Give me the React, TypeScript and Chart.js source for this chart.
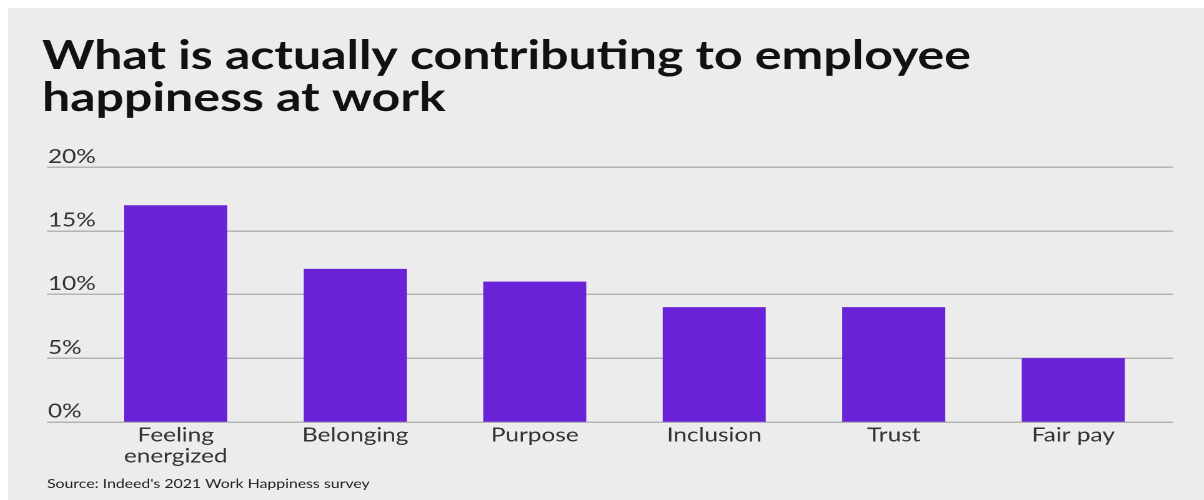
import React, { useEffect, useRef } from 'react';
import { Chart, registerables } from 'chart.js';

Chart.register(...registerables);

const categories: (string | string[])[] = [['Feeling', 'energized'], 'Belonging', 'Purpose', 'Inclusion', 'Trust', 'Fair pay'];
const values = [17, 12, 11, 9, 9, 5];
const yMin = 0;
const yMax = 20;
const yStep = 5;
const titleLines = ['What is actually contributing to employee', 'happiness at work'];
const sourceText = "Source: Indeed's 2021 Work Happiness survey";

const BG = '#ececec';
const BAR = '#6a22d8';
const GRID = '#b4b4b4';

// the reference artwork is horizontally stretched: draw narrow, display wide
const CSS_W = 1196;
const CSS_H = 492;
const INNER_W = 957;

const gridPlugin = {
  id: 'extGrid',
  afterLayout(chart: any) {
    const y = chart.scales.y;
    if (y) {
      y.left += 4.8;
      y.right += 30;
    }
    for (const b of chart.boxes) {
      if (b && b.options && b.options.text === sourceText) {
        b.left += 4;
      }
    }
  },
  beforeDatasetsDraw(chart: any) {
    const { ctx, chartArea } = chart;
    const y = chart.scales.y;
    ctx.save();
    ctx.strokeStyle = GRID;
    ctx.lineWidth = 1.5;
    for (const t of y.ticks) {
      const py = Math.round(y.getPixelForValue(t.value)) + 0.25;
      ctx.beginPath();
      ctx.moveTo(chartArea.left - 31.2, py);
      ctx.lineTo(chartArea.right + 7.8, py);
      ctx.stroke();
    }
    ctx.restore();
  },
};

export default function App() {
  const ref = useRef<HTMLCanvasElement>(null);
  useEffect(() => {
    if (!ref.current) return;
    const chart = new Chart(ref.current, {
      type: 'bar',
      data: {
        labels: categories,
        datasets: [
          {
            data: values,
            backgroundColor: BAR,
            borderWidth: 0,
            categoryPercentage: 1,
            barPercentage: 0.574,
          },
        ],
      },
      options: {
        animation: false,
        responsive: false,
        devicePixelRatio: 2,
        layout: { padding: { left: 27.2, right: 32.8, top: 0, bottom: 0 } },
        plugins: {
          legend: { display: false },
          tooltip: { enabled: false },
          title: {
            display: true,
            text: titleLines,
            align: 'start',
            color: '#111111',
            font: { family: 'Lato', size: 40, weight: 'bold', lineHeight: 1.05 },
            padding: { top: 27, bottom: 48 },
          },
          subtitle: {
            display: true,
            position: 'bottom',
            text: sourceText,
            align: 'start',
            color: '#222222',
            font: { family: 'Lato', size: 12.7, weight: 'normal', lineHeight: 1.2 },
            padding: { top: 6.4, bottom: 8.4 },
          },
        },
        scales: {
          x: {
            offset: true,
            grid: { display: false, drawTicks: false },
            border: { display: false },
            ticks: {
              color: '#333333',
              font: { family: 'Lato', size: 19.5, lineHeight: 1.08 },
              padding: 3,
              maxRotation: 0,
              autoSkip: false,
            },
          },
          y: {
            min: yMin,
            max: yMax,
            grid: { display: false, drawTicks: false },
            border: { display: false },
            afterFit: (s: any) => {
              s.width = 35.2;
            },
            ticks: {
              stepSize: yStep,
              crossAlign: 'far',
              labelOffset: -10.5,
              padding: 0,
              color: '#333333',
              font: { family: 'Lato', size: 19.5 },
              callback: (v: any) => v + '%',
            },
          },
        },
      },
      plugins: [gridPlugin],
    });
    return () => chart.destroy();
  }, []);
  return (
    <div style={{ position: 'fixed', left: 8, top: 8, right: 0, bottom: 0, background: BG }}>
      <canvas
        ref={ref}
        width={INNER_W}
        height={CSS_H}
        style={{ display: 'block', width: CSS_W + 'px', height: CSS_H + 'px' }}
      />
    </div>
  );
}
